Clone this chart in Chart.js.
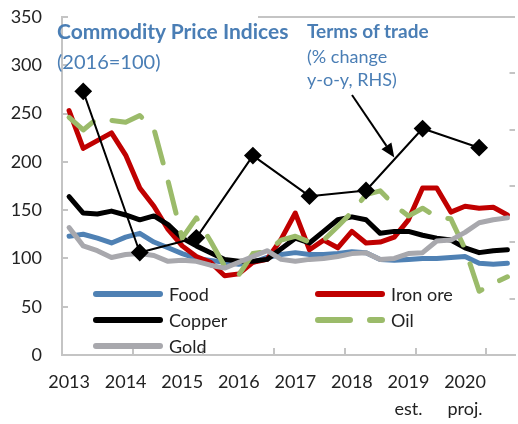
<!DOCTYPE html>
<html>
<head>
<meta charset="utf-8">
<script src="https://cdn.jsdelivr.net/npm/chart.js@4"></script>
<style>
  html, body { margin: 0; padding: 0; background: #fff; overflow: hidden; }
  #wrap { position: relative; width: 518px; height: 424px; overflow: hidden; font-family: Lato, 'Open Sans', sans-serif; }
  #chart { position: absolute; left: 0; top: 0; }
  .note { position: absolute; color: #4a7eb5; font-size: 18px; line-height: 24px; white-space: nowrap; }
  .note b { font-weight: 700; }
  .leg { position: absolute; height: 26px; display: flex; align-items: center; font-size: 18px; color: #222; white-space: nowrap; }
  .leg svg { margin-right: 6px; }
</style>
</head>
<body>
<div id="wrap">
  <canvas id="chart" width="524" height="424"></canvas>
  <div class="note" style="left:57px; top:19px; font-size:21px;"><b>Commodity Price Indices</b></div>
  <div class="note" style="left:57px; top:49px; font-size:20px;">(2016=100)</div>
  <div class="note" style="left:307px; top:19px; font-size:19px;"><b>Terms of trade</b></div>
  <div class="note" style="left:307px; top:44px;">(% change</div>
  <div class="note" style="left:307px; top:67px;">y-o-y, RHS)</div>
</div>
<script>
// quarterly data, 2013Q1 .. 2020Q4
const years = ['2013', '2014', '2015', '2016', '2017', '2018', '2019', '2020'];
const yearNotes = ['', '', '', '', '', '', 'est.', 'proj.'];

const food = [123, 125, 121, 116, 122, 126, 117, 111, 105, 100, 98, 96, 94, 96, 101, 104,
              106, 104, 104, 105, 107, 106, 99, 98, 99, 100, 100, 101, 102, 95, 94, 95];
const ironOre = [253, 214, 222, 230, 207, 173, 154, 130, 113, 102, 96, 82, 84, 96, 99, 120,
                 147, 109, 119, 111, 128, 116, 117, 122, 140, 173, 173, 148, 154, 152, 153, 145];
const copper = [164, 147, 146, 149, 145, 140, 144, 135, 121, 113, 106, 99, 97, 97, 99, 110,
                121, 116, 128, 140, 143, 140, 126, 128, 128, 124, 121, 119, 111, 106, 108, 109];
const oil = [246, 233, 245, 243, 241, 248, 234, 180, 121, 142, 118, 92, 83, 105, 107, 119,
             123, 117, 119, 133, 148, 166, 170, 155, 144, 152, 143, 141, 110, 66, 74, 81];
const gold = [132, 113, 108, 101, 104, 105, 103, 97, 98, 97, 93, 90, 96, 102, 108, 99,
              97, 99, 100, 102, 105, 106, 99, 100, 105, 106, 118, 119, 127, 137, 140, 142];
// annual, % change y-o-y (right hand scale)
const termsOfTrade = [null, 8.4, null, null, null, -5.9, null, null, null, -4.6, null, null,
                      null, 2.7, null, null, null, -0.9, null, null, null, -0.4, null, null,
                      null, 5.1, null, null, null, 3.4, null, null];

const quarters = [];
years.forEach(y => ['Q1', 'Q2', 'Q3', 'Q4'].forEach(q => quarters.push(y + q)));

const axisGray = '#c4c4c4';
const tickFont = { family: 'Lato', size: 18 };

// arrow from the "Terms of trade" note down to the line, plus the top border
const notePlugin = {
  id: 'notes',
  beforeDatasetsDraw(chart) {
    const { ctx, chartArea } = chart;
    ctx.save();
    ctx.strokeStyle = axisGray;
    ctx.lineWidth = 2;
    ctx.beginPath();
    ctx.moveTo(258, chartArea.top);
    ctx.lineTo(chartArea.right, chartArea.top);
    ctx.stroke();
    ctx.restore();
  },
  afterDatasetsDraw(chart) {
    const { ctx, scales: { x, y2 } } = chart;
    const a = 21, b = 25;
    const tx = (x.getPixelForValue(a) + x.getPixelForValue(b)) / 2;
    const ty = (y2.getPixelForValue(termsOfTrade[a]) + y2.getPixelForValue(termsOfTrade[b])) / 2 - 2;
    const sx = 352, sy = 95;
    const ang = Math.atan2(ty - sy, tx - sx);
    const len = 14, half = 6;
    const bx = tx - len * Math.cos(ang), by = ty - len * Math.sin(ang);
    ctx.save();
    ctx.strokeStyle = '#000';
    ctx.fillStyle = '#000';
    ctx.lineWidth = 2;
    ctx.beginPath();
    ctx.moveTo(sx, sy);
    ctx.lineTo(bx, by);
    ctx.stroke();
    ctx.beginPath();
    ctx.moveTo(tx, ty);
    ctx.lineTo(bx + half * Math.sin(ang), by - half * Math.cos(ang));
    ctx.lineTo(bx - half * Math.sin(ang), by + half * Math.cos(ang));
    ctx.closePath();
    ctx.fill();
    ctx.restore();
  }
};

const chart = new Chart(document.getElementById('chart'), {
  type: 'line',
  data: {
    labels: quarters,
    datasets: [
      { label: 'Terms of trade', data: termsOfTrade, yAxisID: 'y2', borderColor: '#000', borderWidth: 2,
        spanGaps: true, pointStyle: 'rectRot', pointRadius: 7.5, pointBackgroundColor: '#000',
        pointBorderColor: '#000', order: 0 },
      { label: 'Gold', data: gold, borderColor: '#a8a8ad', order: 1 },
      { label: 'Oil', data: oil, borderColor: '#9bbb6a', borderDash: [32, 20], order: 2 },
      { label: 'Copper', data: copper, borderColor: '#000', order: 3 },
      { label: 'Iron ore', data: ironOre, borderColor: '#c00000', order: 4 },
      { label: 'Food', data: food, borderColor: '#4f81b4', order: 5 }
    ]
  },
  options: {
    responsive: false,
    animation: false,
    layout: { padding: { top: 17 } },
    elements: {
      line: { borderWidth: 5, tension: 0, borderCapStyle: 'round', borderJoinStyle: 'round' },
      point: { radius: 0 }
    },
    plugins: { legend: { display: false }, tooltip: { enabled: false } },
    scales: {
      x: {
        type: 'category',
        offset: true,
        grid: {
          offset: true, drawOnChartArea: false, tickLength: -7, lineWidth: 2,
          color: c => c.index % 5 === 0 ? axisGray : 'rgba(0,0,0,0)'
        },
        border: { color: axisGray, width: 2 },
        ticks: {
          autoSkip: false, maxRotation: 0, padding: 21, color: '#222',
          font: { family: 'Lato', size: 18, lineHeight: 1.5 },
          callback: (v, i) => {
            if (i % 4 !== 0) return '';
            const k = i / 4;
            return yearNotes[k] ? [years[k], yearNotes[k]] : years[k];
          }
        },
        afterFit: s => { s.height = 69; s.paddingLeft = 0; s.paddingRight = 0; }
      },
      y: {
        min: 0, max: 350,
        ticks: { stepSize: 50, padding: 26, color: '#222', font: tickFont },
        grid: { drawOnChartArea: false, tickLength: -6, color: axisGray, lineWidth: 2 },
        border: { color: axisGray, width: 2 },
        afterFit: s => { s.width = 62; s.paddingTop = 0; s.paddingBottom = 0; }
      },
      y2: {
        position: 'right',
        min: -15, max: 15,
        ticks: { display: false, stepSize: 5 },
        grid: { drawOnChartArea: false, tickLength: -5, color: axisGray, lineWidth: 2 },
        border: { display: false },
        afterFit: s => { s.width = 4; s.paddingTop = 0; s.paddingBottom = 0; }
      }
    }
  },
  plugins: [notePlugin]
});

// legend in two columns inside the plot, like the original
const legendOrder = ['Food', 'Iron ore', 'Copper', 'Oil', 'Gold'];
const colX = [96, 318];
const rowY = [294, 320, 346];
const wrap = document.getElementById('wrap');
legendOrder.forEach((name, i) => {
  const ds = chart.data.datasets.find(d => d.label === name);
  const el = document.createElement('div');
  el.className = 'leg';
  el.style.left = (colX[i % 2] - 3) + 'px';
  el.style.top = (rowY[Math.floor(i / 2)] - 13) + 'px';
  const dash = ds.borderDash ? ' stroke-dasharray="32 20"' : '';
  el.innerHTML = '<svg width="70" height="10"><line x1="3" y1="5" x2="67" y2="5" stroke="' + ds.borderColor +
    '" stroke-width="6" stroke-linecap="round"' + dash + '/></svg>' + name;
  wrap.appendChild(el);
});
</script>
</body>
</html>
